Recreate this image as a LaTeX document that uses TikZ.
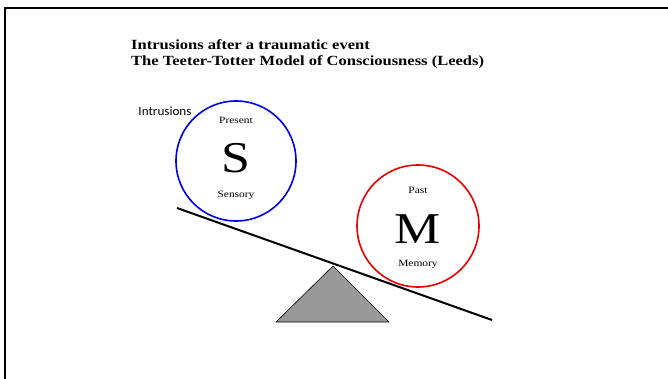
\documentclass[tikz,border=0pt]{standalone}
\usepackage{fontspec}
\setmainfont{Liberation Serif}[FakeStretch=1.18]
\newfontfamily\labelfont{Carlito}[FakeStretch=1.05]
\usepackage{xcolor}
\usetikzlibrary{calc, positioning}
\definecolor{sensblue}{RGB}{0,0,230}
\definecolor{memred}{RGB}{235,0,0}
\definecolor{pivotgray}{RGB}{153,153,153}

\begin{document}
\begin{tikzpicture}[
        x=1pt, y=-1pt,
        title/.style = {anchor=west, font=\fontsize{14}{16}\selectfont\bfseries, inner sep=0pt},
        mind/.style = {draw, circle, line width=1.6pt, minimum size=120pt, inner sep=0pt},
        letter/.style = {font=\fontsize{44}{44}\selectfont, inner sep=0pt},
        small/.style = {font=\fontsize{9.7}{10}\selectfont, inner sep=0pt}
    ]
        \useasboundingbox (0,0) rectangle (668,379);

        % Frame
        \draw [line width=2.5pt] (5,379) -- (5,8) -- (668,8);

        % Title
        \node (title1) [title] at (131,45) {Intrusions after a traumatic event};
        \node (title2) [title] at (131,62) {The Teeter-Totter Model of Consciousness (Leeds)};

        % Circles
        \node (sensory) [mind, draw=sensblue] at (236,161) {};
        \node (memory) [mind, draw=memred, minimum size=122pt] at (418,226) {};

        \node (s) [letter] at (236,158) {S};
        \node (present) [small] at (236,120) {Present};
        \node (sens) [small] at (236,195) {Sensory};

        \node (m) [letter] at (418,229) {M};
        \node (past) [small] at (418,190) {Past};
        \node (mem) [small] at (418,264) {Memory};

        \node (intrusions) [font=\labelfont\fontsize{12.5}{13}\selectfont, inner sep=0pt] at (165,111) {Intrusions};

        % Teeter-totter
        \coordinate (apex) at (333,266);
        \coordinate (baseL) at (276,322);
        \coordinate (baseR) at (389,322);
        \draw [fill=pivotgray, line width=0.6pt] (apex) -- (baseL) -- (baseR) -- cycle;

        \coordinate (beamL) at (177,208);
        \coordinate (beamR) at (492,320);
        \draw [line width=2pt] (beamL) -- (beamR);

    \end{tikzpicture}
\end{document}
